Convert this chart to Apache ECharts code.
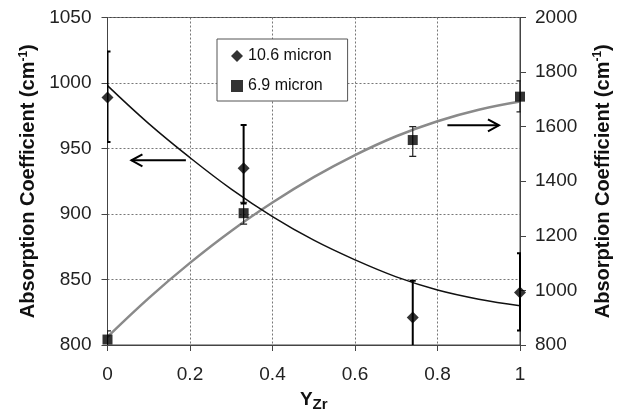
<!DOCTYPE html>
<html><head><meta charset="utf-8">
<script src="https://cdn.jsdelivr.net/npm/echarts@6/dist/echarts.min.js"></script>
<style>html,body{margin:0;padding:0;background:#fff}#c{width:621px;height:417px}</style>
</head><body><div id="c"></div>
<script>
const FONT = '"Liberation Sans", Arial, sans-serif';
// measured points (x = Y_Zr)
const sampleX = [0, 0.33, 0.74, 1];
// 10.6 micron (left axis)
const val106 = [989, 935, 821, 840];
const low106 = [955, 908, 792, 811];
const high106 = [1024, 968, 849, 870];
// 6.9 micron (right axis)
const val69 = [820, 1283, 1551, 1710];
const low69 = [788, 1243, 1491, 1654];
const high69 = [852, 1323, 1600, 1768];
// fitted curves
const fitX = [0, 0.1, 0.2, 0.3, 0.4, 0.5, 0.6, 0.7, 0.8, 0.9, 1];
const fit106 = [998, 969, 943, 919, 898, 880, 865, 852, 842, 835, 830];
const fit69 = [830, 972, 1101, 1218, 1322, 1415, 1496, 1565, 1620, 1662, 1692];
// arrows: [tailX, headX, y]
const arrowLeft = [0.19, 0.058, 941];
const arrowRight = [0.824, 0.949, 1605];

const chart = echarts.init(document.getElementById('c'), null, {renderer: 'canvas'});

function errBar(lw, cap, color) {
  return function (params, api) {
    const x = api.value(0);
    const a = api.coord([x, api.value(1)]);
    const b = api.coord([x, api.value(2)]);
    const st = {stroke: color, lineWidth: lw, fill: null};
    return {type: 'group', children: [
      {type: 'line', shape: {x1: a[0], y1: a[1], x2: b[0], y2: b[1]}, style: st},
      {type: 'line', shape: {x1: a[0] - cap, y1: a[1], x2: a[0] + cap, y2: a[1]}, style: st},
      {type: 'line', shape: {x1: b[0] - cap, y1: b[1], x2: b[0] + cap, y2: b[1]}, style: st}
    ]};
  };
}
function arrowItem(params, api) {
  const p1 = api.coord([api.value(0), api.value(2)]);
  const p2 = api.coord([api.value(1), api.value(2)]);
  const d = p2[0] > p1[0] ? 1 : -1;
  const st = {stroke: '#000', lineWidth: 2, fill: null};
  return {type: 'group', children: [
    {type: 'line', shape: {x1: p1[0], y1: p1[1], x2: p2[0], y2: p2[1]}, style: st},
    {type: 'polyline', shape: {points: [[p2[0] - d * 11, p2[1] - 6], [p2[0], p2[1]], [p2[0] - d * 11, p2[1] + 6]]}, style: st}
  ]};
}

const gridLine = {show: true, lineStyle: {color: '#777', type: [2, 2], width: 1}};
const labelStyle = {fontFamily: FONT, fontSize: 19, color: '#222', formatter: v => String(v)};
const titleRich = {
  t: {fontFamily: FONT, fontSize: 20, fontWeight: 'bold', color: '#111'},
  s: {fontFamily: FONT, fontSize: 12, fontWeight: 'bold', color: '#111', padding: [0, 0, 10, 0]}
};

chart.setOption({
  animation: false,
  backgroundColor: '#fff',
  grid: {left: 107.5, right: 96, top: 17.5, bottom: 67.5, show: true, borderColor: '#444', borderWidth: 1},
  legend: {
    orient: 'vertical', left: 217, top: 39,
    padding: [9, 16, 7, 14], itemGap: 14, itemWidth: 12, itemHeight: 12,
    borderColor: '#555', borderWidth: 1, backgroundColor: '#fff', borderRadius: 0,
    textStyle: {fontFamily: FONT, fontSize: 16, color: '#111'},
    data: [{name: '10.6 micron', icon: 'diamond'}, {name: '6.9 micron', icon: 'rect'}]
  },
  xAxis: {
    type: 'value', min: 0, max: 1, interval: 0.2,
    axisLine: {show: true, lineStyle: {color: '#444'}},
    axisTick: {show: true, length: 6, lineStyle: {color: '#444'}},
    axisLabel: Object.assign({margin: 20}, labelStyle),
    splitLine: gridLine,
    name: '{y|Y}{z|Zr}', nameLocation: 'middle', nameGap: 43,
    nameTextStyle: {rich: {
      y: {fontFamily: FONT, fontSize: 19, fontWeight: 'bold', color: '#111'},
      z: {fontFamily: FONT, fontSize: 15, fontWeight: 'bold', color: '#111', padding: [9, 0, 0, 0]}
    }}
  },
  yAxis: [{
    type: 'value', min: 800, max: 1050, interval: 50, position: 'left',
    axisLine: {show: true, lineStyle: {color: '#444'}},
    axisTick: {show: true, length: 6, lineStyle: {color: '#444'}},
    axisLabel: Object.assign({margin: 16}, labelStyle),
    splitLine: gridLine,
    name: '{t|Absorption Coefficient (cm}{s|-1}{t|)}', nameLocation: 'middle', nameRotate: 90, nameGap: 68,
    nameTextStyle: {rich: titleRich}
  }, {
    type: 'value', min: 800, max: 2000, interval: 200, position: 'right',
    axisLine: {show: true, lineStyle: {color: '#444'}},
    axisTick: {show: true, length: 6, lineStyle: {color: '#444'}},
    axisLabel: Object.assign({margin: 15}, labelStyle),
    splitLine: {show: false},
    name: '{t|Absorption Coefficient (cm}{s|-1}{t|)}', nameLocation: 'middle', nameRotate: 90, nameGap: 72,
    nameTextStyle: {rich: titleRich}
  }],
  series: [
    {name: 'fit69', type: 'line', yAxisIndex: 1, smooth: 0.4, symbol: 'none', silent: true,
     lineStyle: {color: '#8a8a8a', width: 2.5}, data: fitX.map((x, i) => [x, fit69[i]]), z: 2},
    {name: 'fit106', type: 'line', yAxisIndex: 0, smooth: 0.4, symbol: 'none', silent: true,
     lineStyle: {color: '#111', width: 1.5}, data: fitX.map((x, i) => [x, fit106[i]]), z: 3},
    {name: 'err69', type: 'custom', yAxisIndex: 1, clip: true, silent: true, z: 4,
     renderItem: errBar(1.2, 3.5, '#222'), encode: {x: 0, y: [1, 2]},
     data: sampleX.map((x, i) => [x, low69[i], high69[i]])},
    {name: 'err106', type: 'custom', yAxisIndex: 0, clip: true, silent: true, z: 4,
     renderItem: errBar(2, 3, '#000'), encode: {x: 0, y: [1, 2]},
     data: sampleX.map((x, i) => [x, low106[i], high106[i]])},
    {name: '10.6 micron', type: 'scatter', yAxisIndex: 0, symbol: 'diamond', symbolSize: 12,
     itemStyle: {color: '#000'}, data: sampleX.map((x, i) => [x, val106[i]]), z: 5},
    {name: '6.9 micron', type: 'scatter', yAxisIndex: 1, symbol: 'rect', symbolSize: 10,
     itemStyle: {color: '#000'}, data: sampleX.map((x, i) => [x, val69[i]]), z: 5},
    {name: 'arrowL', type: 'custom', yAxisIndex: 0, silent: true, z: 6, renderItem: arrowItem,
     encode: {x: [0, 1], y: 2}, data: [arrowLeft]},
    {name: 'arrowR', type: 'custom', yAxisIndex: 1, silent: true, z: 6, renderItem: arrowItem,
     encode: {x: [0, 1], y: 2}, data: [arrowRight]}
  ]
});
</script>
</body></html>
